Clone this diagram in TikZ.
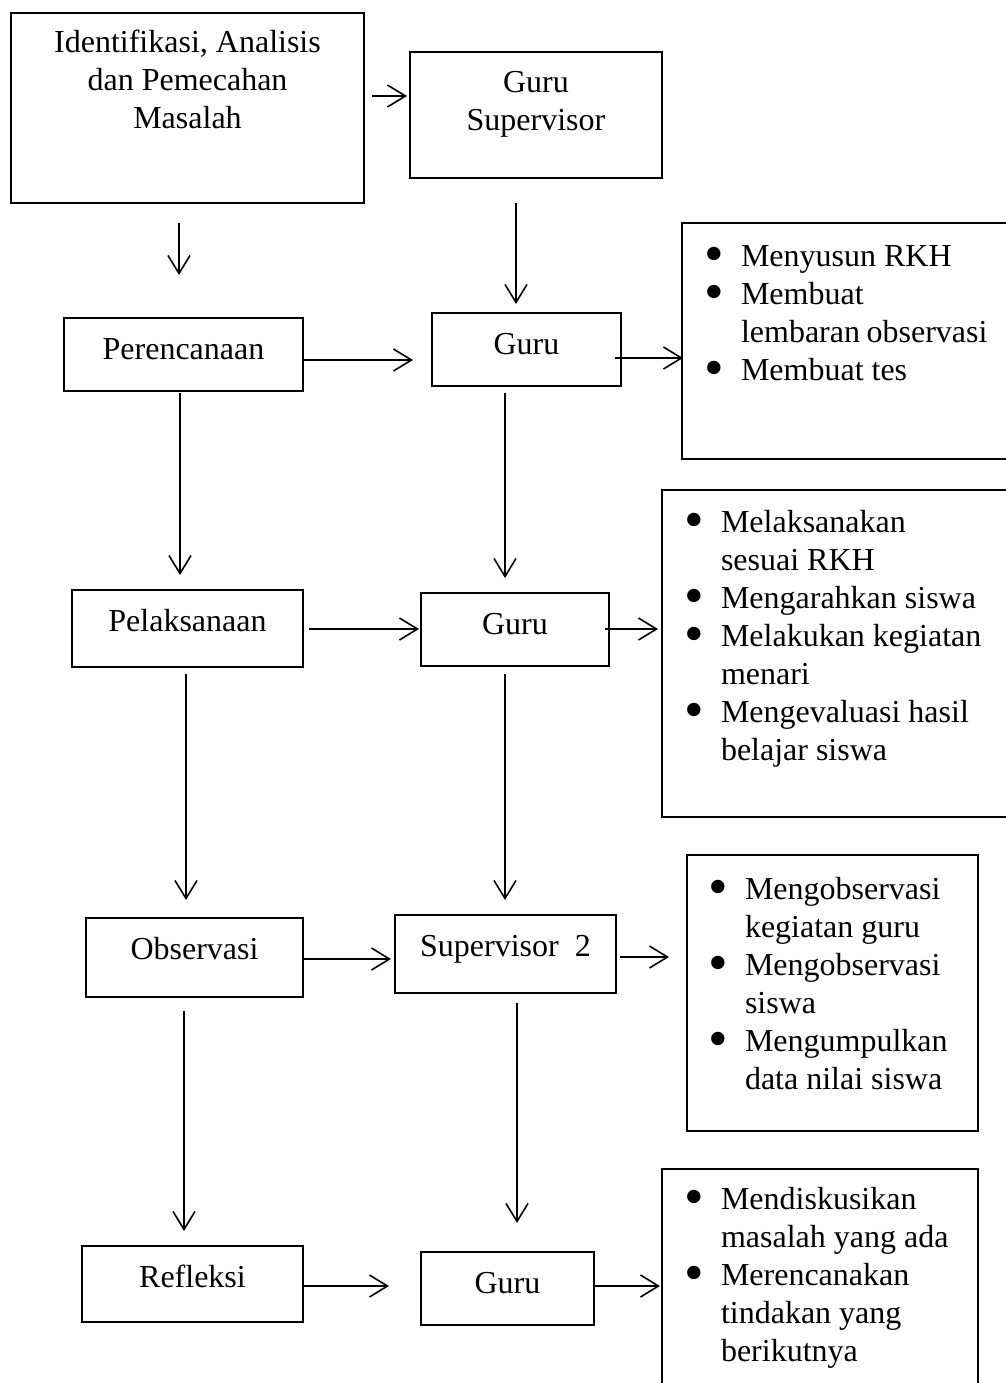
\documentclass[tikz,border=0pt]{standalone}
\usepackage{fontspec}
\setmainfont{Liberation Serif}
\usetikzlibrary{arrows.meta}
\newcommand{\natsp}{\spaceskip=0pt\xspaceskip=0pt\relax}
\newcommand{\bul}{\makebox[18.25pt][l]{\raisebox{-3pt}{\fontsize{28}{19}\selectfont\textbullet}}}
\newcommand{\bulgap}{\hspace*{18.25pt}}

\begin{document}
\begin{tikzpicture}[x=0.5pt,y=-0.5pt,
  box/.style={draw,line width=1pt,anchor=north,align=center,inner xsep=2pt,inner ysep=0pt,outer sep=0pt,text height=20.5pt,font=\fontsize{16}{19}\selectfont},
  lst/.style={draw,line width=1pt,anchor=north west,align=left,inner xsep=11.25pt,inner ysep=0pt,outer sep=0pt,text height=21pt,font=\fontsize{16}{19}\selectfont},
  arr/.style={-{Straight Barb[length=9pt,width=11pt]},line width=0.8pt}
]
\useasboundingbox (0,0) rectangle (1006,1383);
\clip (0,0) rectangle (1006,1383);

\node[box,minimum width=176.5pt,text height=57.5pt,text depth=37.5pt] (idt) at (187.5,13) {\natsp Identifikasi, Analisis\\dan Pemecahan\\Masalah};
\node[box,minimum width=126pt,text height=39pt,text depth=24pt] (gs) at (536,52) {\natsp Guru\\Supervisor};
\node[box,minimum width=119.5pt,text depth=16pt] (ren) at (183.5,318) {Perencanaan};
\node[box,minimum width=94.5pt,text depth=16pt] (g1) at (526.5,313) {Guru};
\node[box,minimum width=115.5pt,text depth=18pt] (pel) at (187.5,590) {Pelaksanaan};
\node[box,minimum width=94pt,text depth=16pt] (g2) at (515,593) {Guru};
\node[box,minimum width=108.5pt,text depth=19pt] (obs) at (194.5,918) {Observasi};
\node[box,minimum width=110.5pt,text depth=18.5pt] (sv2) at (505.5,915) {Supervisor~~2};
\node[box,minimum width=110.5pt,text depth=17.5pt] (ref) at (192.5,1246) {Refleksi};
\node[box,minimum width=86.5pt,text depth=16pt] (g3) at (507.5,1252) {Guru};

\node[lst,text width=141.5pt,text height=21.5pt,text depth=96.5pt] (l1) at (682,223)
  {\natsp\bul Menyusun RKH\\\bul Membuat\\\bulgap lembaran observasi\\\bul Membuat tes};
\node[lst,text width=152.5pt,text depth=142.5pt] (l2) at (662,490)
  {\natsp\bul Melaksanakan\\\bulgap sesuai RKH\\\bul Mengarahkan siswa\\\bul Melakukan kegiatan\\\bulgap menari\\\bul Mengevaluasi hasil\\\bulgap belajar siswa};
\node[lst,inner xsep=10.75pt,text width=124pt,text height=22pt,text depth=116pt] (l3) at (687,855)
  {\natsp\bul Mengobservasi\\\bulgap kegiatan guru\\\bul Mengobservasi\\\bulgap siswa\\\bul Mengumpulkan\\\bulgap data nilai siswa};
\node[lst,text width=135.5pt,text height=20pt,text depth=95.5pt] (l4) at (662,1169)
  {\natsp\bul Mendiskusikan\\\bulgap masalah yang ada\\\bul Merencanakan\\\bulgap tindakan yang\\\bulgap berikutnya};

\draw[arr,shorten <=4pt,shorten >=1.5pt] ([yshift=6pt]idt.east) -- ([yshift=9.5pt]gs.west);
\draw[arr,shorten <=10pt,shorten >=21.5pt] ([xshift=-4.25pt]idt.south) -- ([xshift=-2.25pt]ren.north);
\draw[arr,shorten <=12.5pt,shorten >=4.5pt] ([xshift=-10pt]gs.south) -- ([xshift=-5.25pt]g1.north);
\draw[arr,shorten >=9.5pt] ([yshift=-2.75pt]ren.east) -- ([yshift=-5.25pt]g1.west);
\draw[arr,shorten <=-3pt,shorten >=-0.5pt] ([yshift=-4.25pt]g1.east) -- ([yshift=-8.5pt]l1.west);
\draw[arr,shorten <=1pt,shorten >=7.5pt] ([xshift=-1.75pt]ren.south) -- ([xshift=-3.75pt]pel.north);
\draw[arr,shorten <=3.5pt,shorten >=7.5pt] ([xshift=-10.75pt]g1.south) -- ([xshift=-5pt]g2.north);
\draw[arr,shorten <=3pt,shorten >=1pt] ([yshift=-0.25pt]pel.east) -- ([yshift=0.25pt]g2.west);
\draw[arr,shorten <=-2pt,shorten >=2pt] ([yshift=0.25pt]g2.east) -- ([yshift=12.25pt]l2.west);
\draw[arr,shorten <=3.5pt,shorten >=9pt] ([xshift=-0.75pt]pel.south) -- ([xshift=-4.25pt]obs.north);
\draw[arr,shorten <=4pt,shorten >=7.5pt] ([xshift=-5pt]g2.south) -- ([xshift=-0.25pt]sv2.north);
\draw[arr,shorten >=2pt] ([yshift=-0.75pt]obs.east) -- ([yshift=-2.5pt]sv2.west);
\draw[arr,shorten <=2pt,shorten >=9pt] ([yshift=-1.5pt]sv2.east) -- ([yshift=18pt]l3.west);
\draw[arr,shorten <=7pt,shorten >=7.5pt] ([xshift=-5.25pt]obs.south) -- ([xshift=-4.25pt]ref.north);
\draw[arr,shorten <=5pt,shorten >=14.5pt] ([xshift=5.75pt]sv2.south) -- ([xshift=4.75pt]g3.north);
\draw[arr,shorten >=16pt] ([yshift=-1pt]ref.east) -- ([yshift=1.25pt]g3.west);
\draw[arr,shorten <=-0.5pt,shorten >=1pt] ([yshift=1.25pt]g3.east) -- ([yshift=-0.75pt]l4.west);
\end{tikzpicture}
\end{document}
